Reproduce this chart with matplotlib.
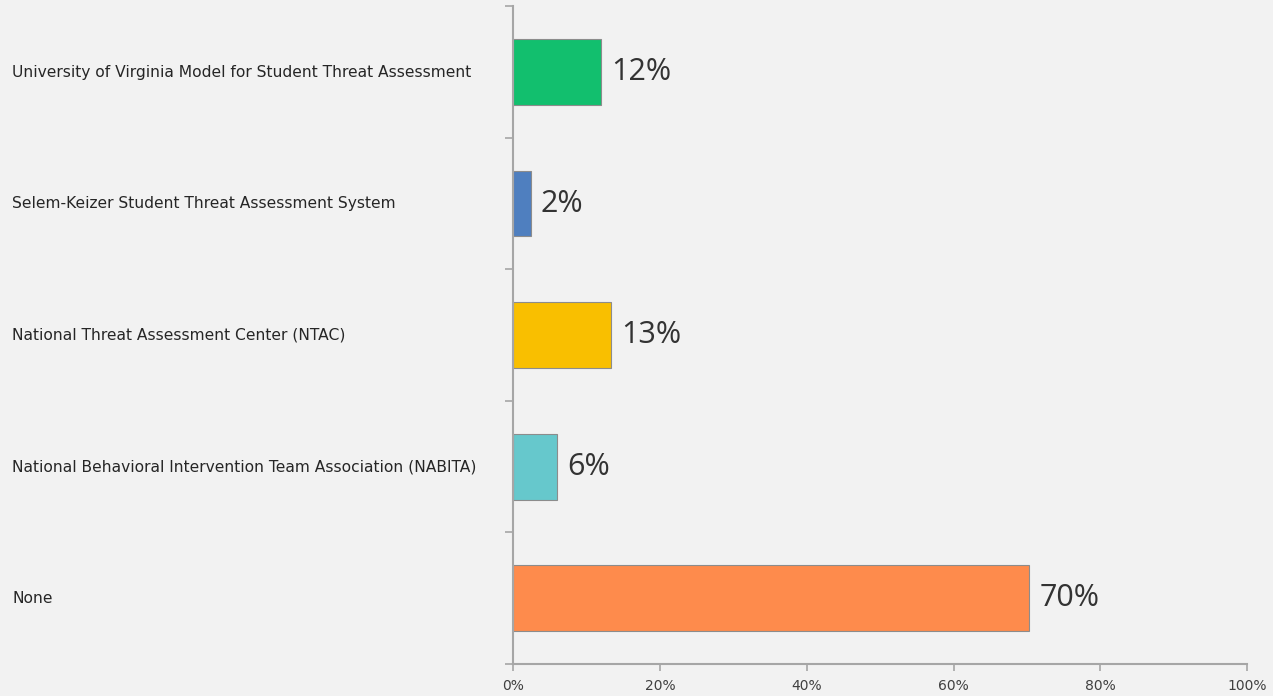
import matplotlib.pyplot as plt
import matplotlib.transforms as mtransforms
from matplotlib.ticker import FuncFormatter, MultipleLocator

# data, top to bottom
categories = [
    "University of Virginia Model for Student Threat Assessment",
    "Selem-Keizer Student Threat Assessment System",
    "National Threat Assessment Center (NTAC)",
    "National Behavioral Intervention Team Association (NABITA)",
    "None",
]
shares = [12.0, 2.4, 13.4, 6.0, 70.3]
value_labels = ["12%", "2%", "13%", "6%", "70%"]
bar_colors = ["#12bf6e", "#4f7fbf", "#f9bf00", "#66c8cc", "#fe8b4c"]

BG = "#f2f2f2"
AXIS = "#a6a6a6"

plt.rcParams["font.family"] = ["Open Sans", "DejaVu Sans"]

fig = plt.figure(figsize=(12.73, 6.96), dpi=100, facecolor=BG)
ax = fig.add_axes([0.403, 0.046, 0.5767, 0.945], facecolor=BG)

y = list(range(len(categories)))
ax.barh(y, shares, height=0.5, color=bar_colors, edgecolor="#8c8c8c", linewidth=0.8)
ax.set_ylim(len(categories) - 0.5, -0.5)
ax.set_xlim(0, 100)

for i, (v, lab) in enumerate(zip(shares, value_labels)):
    ax.text(v + 1.4, i, lab, va="center", ha="left", fontsize=22, color="#333333")

# category labels, left aligned at figure edge
trans = mtransforms.blended_transform_factory(fig.transFigure, ax.transData)
for i, name in enumerate(categories):
    ax.text(0.0095, i, name, transform=trans, va="center", ha="left",
            fontsize=11.2, color="#262626", family="DejaVu Sans")

ax.set_yticks([i - 0.5 for i in range(len(categories) + 1)])
ax.set_yticklabels([])
ax.xaxis.set_major_locator(MultipleLocator(20))
ax.xaxis.set_major_formatter(FuncFormatter(lambda v, _p: f"{v:.0f}%"))
ax.tick_params(axis="y", length=6, width=1.2, color=AXIS)
ax.tick_params(axis="x", length=5, width=1.2, color=AXIS, labelsize=10,
               labelcolor="#404040", pad=6)
for t in ax.get_xticklabels():
    t.set_family("DejaVu Sans")

for side in ("top", "right"):
    ax.spines[side].set_visible(False)
for side in ("left", "bottom"):
    ax.spines[side].set_color(AXIS)
    ax.spines[side].set_linewidth(1.5)

fig.savefig("out.png", dpi=100, facecolor=BG)
